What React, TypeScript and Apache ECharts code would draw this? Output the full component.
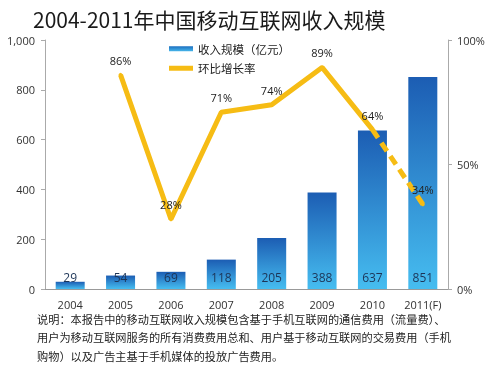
import React, { useEffect, useRef } from "react";
import * as echarts from "echarts";

const categories = ["2004", "2005", "2006", "2007", "2008", "2009", "2010", "2011(F)"];
const revenue = [29, 54, 69, 118, 205, 388, 637, 851];
const growthSolid: (number | null)[] = [null, 86, 28, 71, 74, 89, 64, null];
const growthForecast: (number | null)[] = [null, null, null, null, null, null, 64, 34];
const leftTicks = { min: 0, max: 1000, interval: 200 };
const rightTicks = { min: 0, max: 100, interval: 50 };
const titleText = "2004-2011年中国移动互联网收入规模";
const seriesNames = ["收入规模（亿元）", "环比增长率"];
const noteLines = [
  "说明：本报告中的移动互联网收入规模包含基于手机互联网的通信费用（流量费）、",
  "用户为移动互联网服务的所有消费费用总和、用户基于移动互联网的交易费用（手机",
  "购物）以及广告主基于手机媒体的投放广告费用。",
];

const FONT = "'Open Sans', 'Noto Sans CJK SC', sans-serif";
const YELLOW = "#F6BC14";

export default function App() {
  const ref = useRef<HTMLDivElement>(null);
  useEffect(() => {
    if (!ref.current) return;
    const chart = echarts.init(ref.current, undefined, { renderer: "svg" });
    const barGrad = new echarts.graphic.LinearGradient(0, 0, 0, 1, [
      { offset: 0, color: "#1c5db3" },
      { offset: 1, color: "#46bdf0" },
    ]);
    const legendGrad = new echarts.graphic.LinearGradient(0, 0, 0, 1, [
      { offset: 0, color: "#1c6fc0" },
      { offset: 1, color: "#46b5ea" },
    ]);
    chart.setOption({
      animation: false,
      textStyle: { fontFamily: FONT },
      title: {
        text: titleText,
        left: 28,
        top: 3,
        textStyle: { fontSize: 21, fontWeight: "normal", color: "#1a1a1a", fontFamily: "'Noto Sans CJK SC', sans-serif" },
      },
      legend: {
        orient: "vertical",
        left: 164,
        top: 38,
        itemWidth: 24,
        itemHeight: 5,
        itemGap: 8,
        textStyle: { fontSize: 11.5, color: "#222", fontFamily: "'Noto Sans CJK SC', sans-serif" },
        data: [
          { name: seriesNames[0], icon: "rect", itemStyle: { color: legendGrad } },
          { name: seriesNames[1], icon: "rect", itemStyle: { color: YELLOW } },
        ],
      },
      grid: { left: 45, right: 43, top: 40, bottom: 77, containLabel: false },
      xAxis: {
        type: "category",
        data: categories,
        axisLine: { lineStyle: { color: "#999" } },
        axisTick: { show: false },
        axisLabel: { color: "#333", fontSize: 11, margin: 10, interval: 0 },
      },
      yAxis: [
        {
          type: "value",
          ...leftTicks,
          axisLine: { show: true, lineStyle: { color: "#aaa" } },
          axisTick: { show: true, length: 4, lineStyle: { color: "#aaa" } },
          splitLine: { show: false },
          axisLabel: {
            color: "#333",
            fontSize: 11,
            margin: 10,
            formatter: (v: number) => v.toLocaleString("en-US"),
          },
        },
        {
          type: "value",
          ...rightTicks,
          axisLine: { show: true, lineStyle: { color: "#aaa" } },
          axisTick: { show: true, length: 4, lineStyle: { color: "#aaa" } },
          splitLine: { show: false },
          axisLabel: { color: "#333", fontSize: 11, margin: 9, formatter: "{value}%" },
        },
      ],
      series: [
        {
          name: seriesNames[0],
          type: "bar",
          data: revenue,
          barWidth: 29,
          itemStyle: { color: barGrad },
          label: {
            show: true,
            position: "insideBottom",
            distance: 6,
            color: "#1d3557",
            fontSize: 12,
          },
          z: 2,
        },
        {
          name: seriesNames[1],
          type: "line",
          yAxisIndex: 1,
          data: growthSolid,
          symbol: "circle",
          symbolSize: 4,
          itemStyle: { color: YELLOW },
          lineStyle: { color: YELLOW, width: 5 },
          label: { show: true, position: "top", distance: 7, color: "#222", fontSize: 11, formatter: "{c}%" },
          z: 3,
        },
        {
          name: seriesNames[1] + "F",
          type: "line",
          yAxisIndex: 1,
          data: growthForecast,
          symbol: "circle",
          symbolSize: 4,
          itemStyle: { color: YELLOW },
          lineStyle: { color: YELLOW, width: 5, type: [10, 6] },
          label: {
            show: true,
            position: "top",
            distance: 7,
            color: "#222",
            fontSize: 11,
            formatter: (p: any) => (p.dataIndex === categories.length - 1 ? p.value + "%" : ""),
          },
          z: 3,
        },
      ],
      graphic: noteLines.map((t, i) => ({
        type: "text",
        left: 37,
        top: 313 + i * 18.5,
        style: { text: t, fontSize: 11.2, fill: "#222", fontFamily: "'Noto Sans CJK SC', sans-serif" },
      })),
    });
    return () => chart.dispose();
  }, []);
  return <div ref={ref} style={{ position: "fixed", left: 0, top: 0, width: 491, height: 366 }} />;
}
